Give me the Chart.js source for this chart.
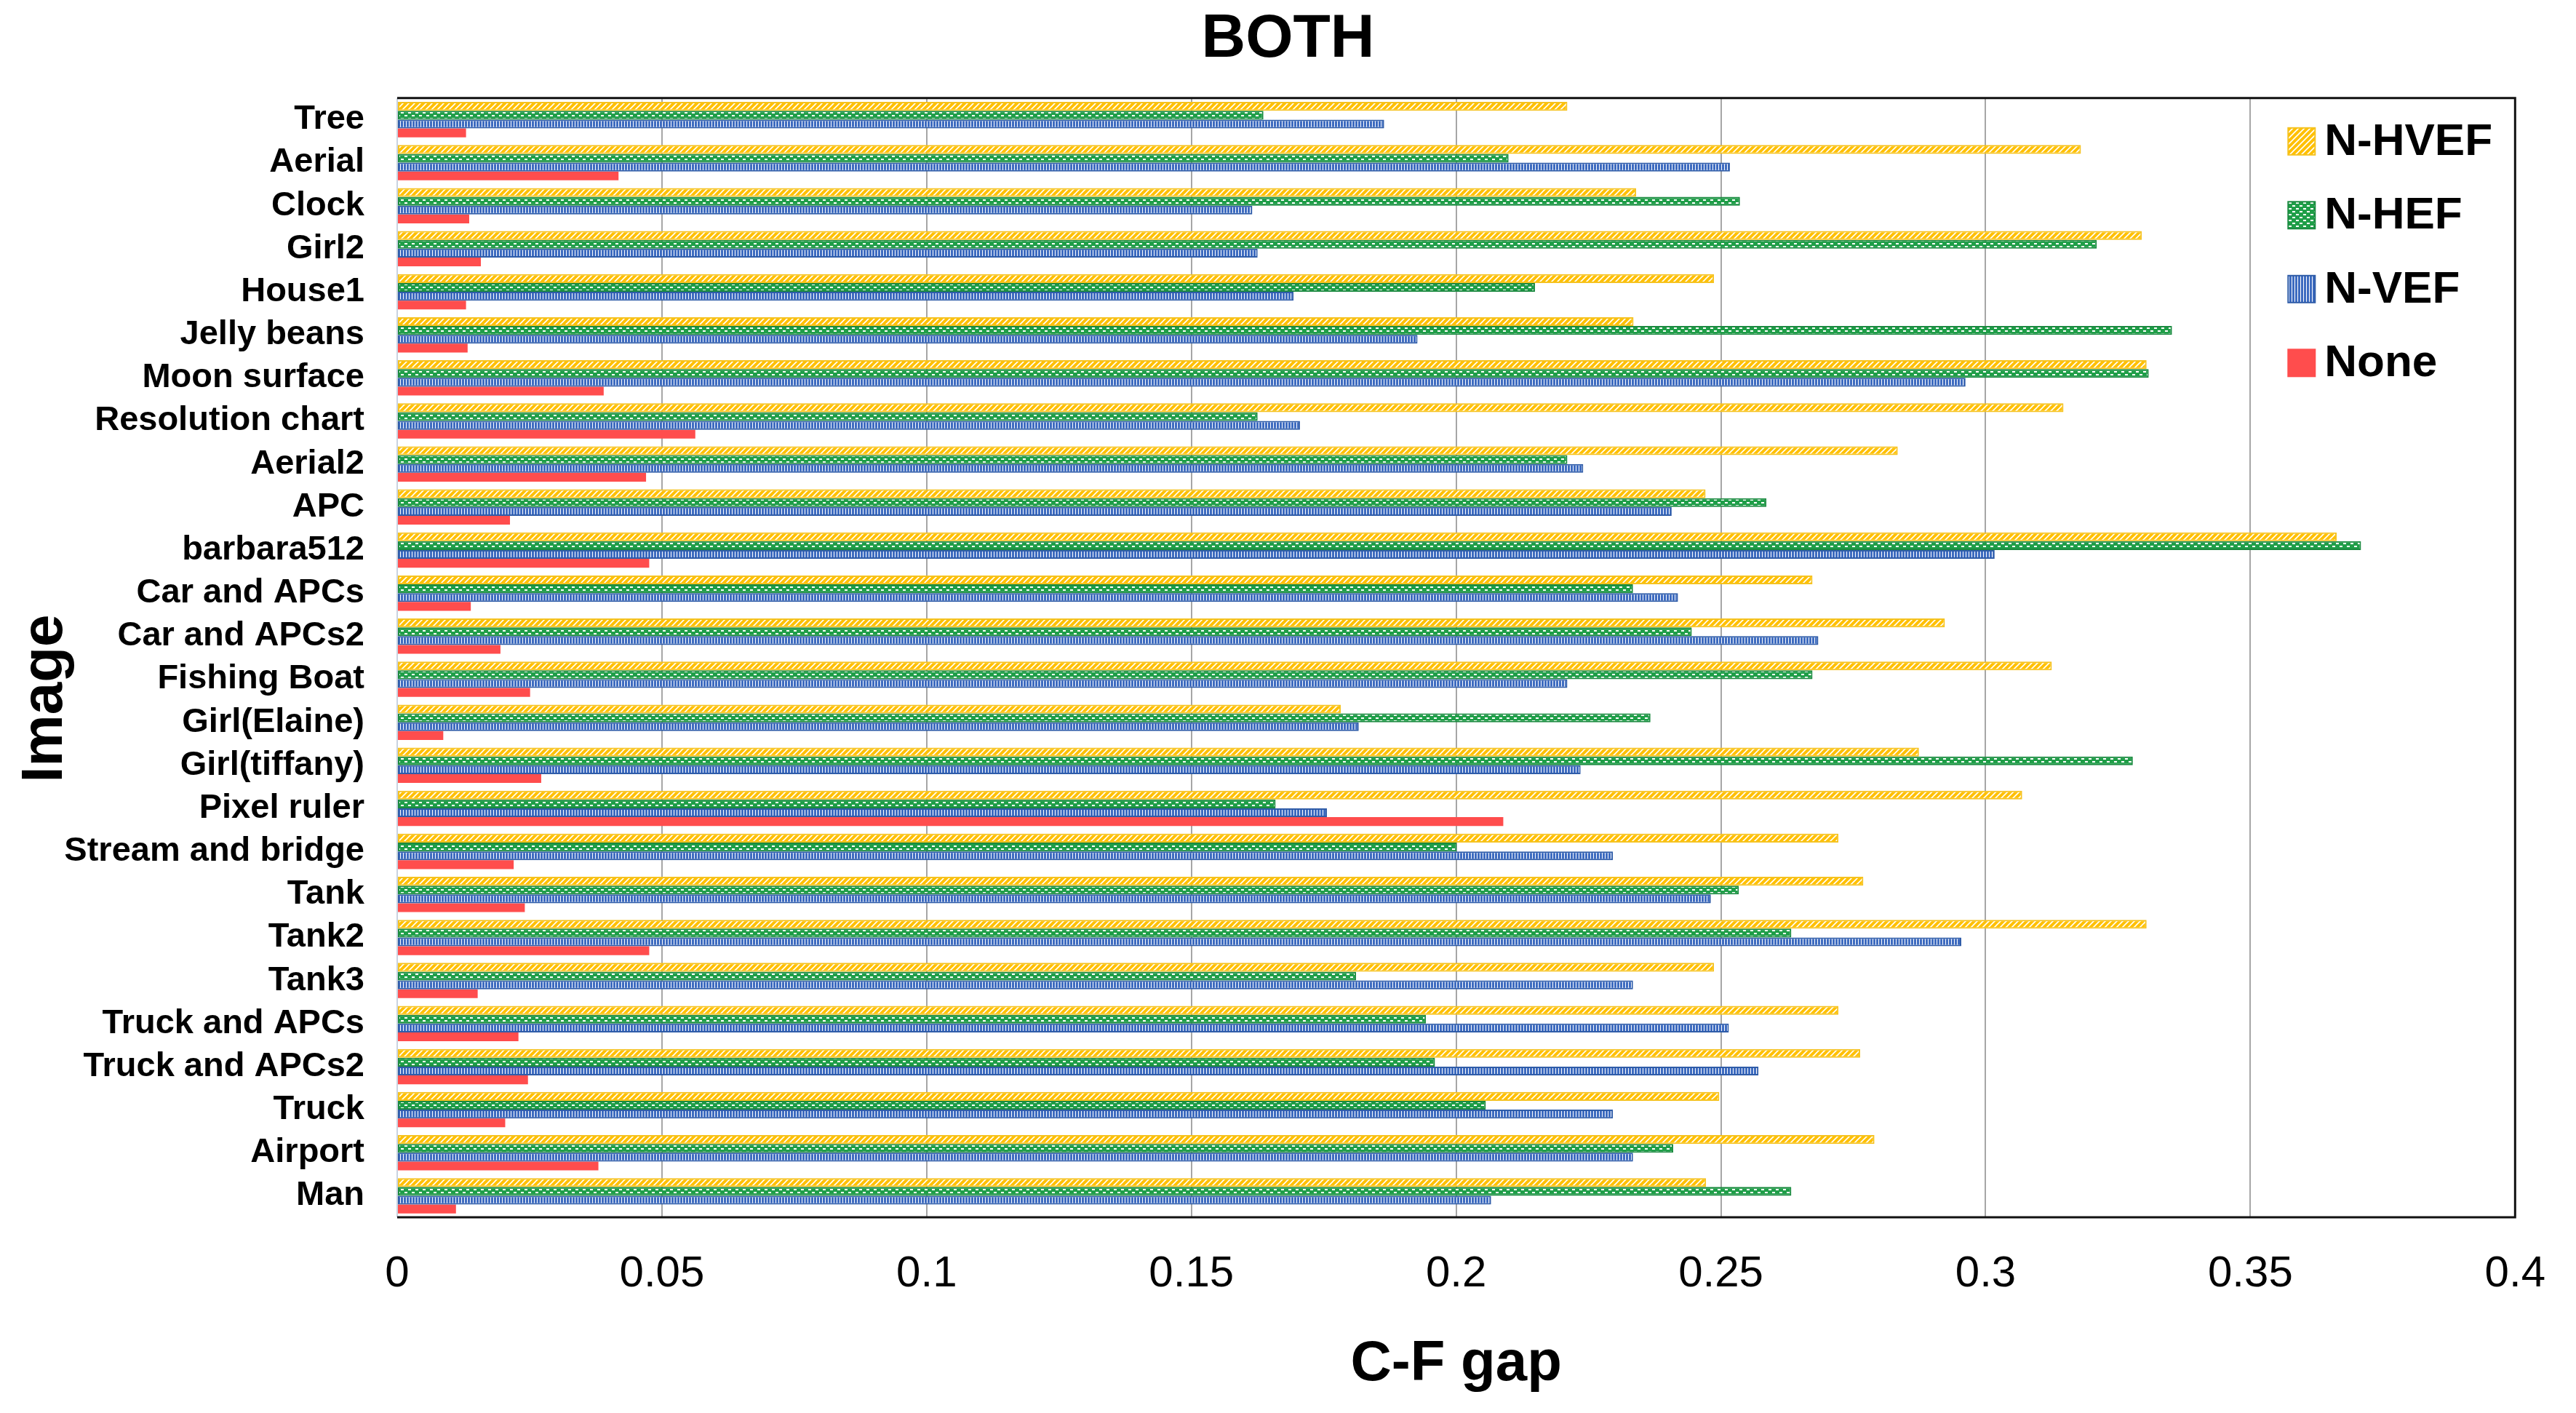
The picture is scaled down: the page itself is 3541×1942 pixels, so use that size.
<!DOCTYPE html>
<html lang="en">
<head>
<meta charset="UTF-8">
<title>BOTH - C-F gap by image</title>
<script src="https://cdn.jsdelivr.net/npm/chart.js"></script>
<style>
  html, body { margin: 0; padding: 0; background: #fff; }
  canvas { display: block; }
</style>
</head>
<body>
<canvas id="gapChart" width="3541" height="1942"></canvas>
<script>
// Data (C-F gap per test image)
const images = ['Tree', 'Aerial', 'Clock', 'Girl2', 'House1', 'Jelly beans', 'Moon surface',
  'Resolution chart', 'Aerial2', 'APC', 'barbara512', 'Car and APCs', 'Car and APCs2',
  'Fishing Boat', 'Girl(Elaine)', 'Girl(tiffany)', 'Pixel ruler', 'Stream and bridge',
  'Tank', 'Tank2', 'Tank3', 'Truck and APCs', 'Truck and APCs2', 'Truck', 'Airport', 'Man'];

const nHVEF = [0.221, 0.318, 0.234, 0.3295, 0.2487, 0.2335, 0.3304, 0.3147, 0.2834, 0.2471,
  0.3663, 0.2673, 0.2923, 0.3125, 0.1782, 0.2874, 0.3069, 0.2722, 0.2769, 0.3304,
  0.2487, 0.2722, 0.2763, 0.2497, 0.279, 0.2472];
const nHEF = [0.1636, 0.2099, 0.2536, 0.321, 0.2149, 0.3352, 0.3308, 0.1625, 0.221, 0.2586,
  0.3709, 0.2334, 0.2445, 0.2673, 0.2367, 0.3278, 0.1659, 0.2001, 0.2534, 0.2633,
  0.1811, 0.1943, 0.196, 0.2056, 0.241, 0.2633];
const nVEF = [0.1864, 0.2517, 0.1615, 0.1625, 0.1693, 0.1927, 0.2962, 0.1705, 0.224, 0.2407,
  0.3017, 0.2419, 0.2684, 0.221, 0.1816, 0.2235, 0.1756, 0.2296, 0.2481, 0.2954,
  0.2334, 0.2515, 0.2571, 0.2296, 0.2334, 0.2066];
const none = [0.013, 0.0418, 0.0136, 0.0158, 0.013, 0.0133, 0.039, 0.0563, 0.047, 0.0213,
  0.0476, 0.0139, 0.0195, 0.0251, 0.0087, 0.0272, 0.2089, 0.022, 0.0241, 0.0476,
  0.0152, 0.0229, 0.0247, 0.0204, 0.038, 0.0111];

const seriesNames = ['N-HVEF', 'N-HEF', 'N-VEF', 'None'];
const xTickLabels = ['0', '0.05', '0.1', '0.15', '0.2', '0.25', '0.3', '0.35', '0.4'];

// small canvas patterns like the Excel fills
function makePattern(kind) {
  const c = document.createElement('canvas');
  const g = c.getContext('2d');
  if (kind === 'diag') {
    c.width = 8; c.height = 8;
    g.fillStyle = '#FFC000';
    g.fillRect(0, 0, 8, 8);
    g.strokeStyle = '#ffffff';
    g.lineWidth = 1.6;
    g.beginPath();
    g.moveTo(0, 8); g.lineTo(8, 0);
    g.moveTo(-2, 2); g.lineTo(2, -2);
    g.moveTo(6, 10); g.lineTo(10, 6);
    g.stroke();
  } else if (kind === 'dash') {
    c.width = 10; c.height = 8;
    g.fillStyle = '#1F9E48';
    g.fillRect(0, 0, 10, 8);
    g.fillStyle = '#ffffff';
    g.fillRect(1, 2, 4, 2);
    g.fillRect(6, 6, 4, 2);
  } else if (kind === 'vert') {
    c.width = 4; c.height = 4;
    g.fillStyle = '#3D6BC0';
    g.fillRect(0, 0, 4, 4);
    g.fillStyle = '#ffffff';
    g.fillRect(2, 0, 1, 4);
  }
  return g.createPattern(c, 'repeat');
}

const fills = [makePattern('diag'), makePattern('dash'), makePattern('vert'), '#FF4D4D'];
const edges = ['#F5C220', '#1B8A40', '#2F5CA8', '#FF4D4D'];
const values = [nHVEF, nHEF, nVEF, none];

// legend sits inside the plot, top right
const insideLegend = {
  id: 'insideLegend',
  afterDraw(chart) {
    const ctx = chart.ctx;
    const area = chart.chartArea;
    const x = area.right - 312;
    ctx.save();
    ctx.font = 'bold 62px "Liberation Sans", Arial, sans-serif';
    ctx.textBaseline = 'middle';
    ctx.textAlign = 'left';
    seriesNames.forEach((name, i) => {
      const cy = area.top + 59 + i * 101.5;
      ctx.fillStyle = fills[i];
      ctx.fillRect(x, cy - 18, 37, 37);
      ctx.strokeStyle = edges[i];
      ctx.lineWidth = 2;
      ctx.strokeRect(x, cy - 18, 37, 37);
      ctx.fillStyle = '#000';
      ctx.fillText(name, x + 50, cy + 2);
    });
    ctx.restore();
  }
};

// y axis title, a bit below the middle as in the figure
const yTitle = {
  id: 'yTitle',
  afterDraw(chart) {
    const ctx = chart.ctx;
    ctx.save();
    ctx.translate(63, 960);
    ctx.rotate(-Math.PI / 2);
    ctx.font = 'bold 80px "Liberation Sans", Arial, sans-serif';
    ctx.fillStyle = '#000';
    ctx.textAlign = 'center';
    ctx.textBaseline = 'middle';
    ctx.fillText('Image', 0, 0);
    ctx.restore();
  }
};

// plot frame: dark top/right/bottom, light left axis
const plotFrame = {
  id: 'plotFrame',
  afterDatasetsDraw(chart) {
    const ctx = chart.ctx;
    const a = chart.chartArea;
    ctx.save();
    ctx.strokeStyle = '#C9D3E0';
    ctx.lineWidth = 2;
    ctx.beginPath();
    ctx.moveTo(a.left, a.top); ctx.lineTo(a.left, a.bottom);
    ctx.stroke();
    ctx.strokeStyle = '#111';
    ctx.lineWidth = 3;
    ctx.beginPath();
    ctx.moveTo(a.left, a.top); ctx.lineTo(a.right, a.top);
    ctx.lineTo(a.right, a.bottom); ctx.lineTo(a.left, a.bottom);
    ctx.stroke();
    ctx.restore();
  }
};

Chart.defaults.font.family = '"Liberation Sans", Arial, sans-serif';
Chart.defaults.color = '#000';

const ctx = document.getElementById('gapChart').getContext('2d');
new Chart(ctx, {
  type: 'bar',
  data: {
    labels: images,
    datasets: seriesNames.map((name, i) => ({
      label: name,
      data: values[i],
      backgroundColor: fills[i],
      borderColor: edges[i],
      borderWidth: i === 3 ? 0 : 2,
      borderSkipped: false,
      categoryPercentage: 0.82,
      barPercentage: 1.0
    }))
  },
  options: {
    indexAxis: 'y',
    responsive: false,
    animation: false,
    devicePixelRatio: 1,
    layout: { padding: 0 },
    plugins: {
      legend: { display: false },
      tooltip: { enabled: false },
      title: {
        display: true,
        text: 'BOTH',
        font: { size: 84, weight: 'bold' },
        color: '#000',
        padding: { top: 4, bottom: 30 }
      }
    },
    scales: {
      x: {
        min: 0,
        max: 0.4,
        ticks: {
          stepSize: 0.05,
          padding: 42,
          font: { size: 60 },
          callback: (v, i) => xTickLabels[i]
        },
        grid: {
          drawTicks: false,
          lineWidth: 2,
          color: c => (c.index === 0 ? 'rgba(0,0,0,0)' : '#A6A6A6')
        },
        border: { display: false },
        title: {
          display: true,
          text: 'C-F gap',
          font: { size: 78, weight: 'bold' },
          padding: { top: 0, bottom: 20 }
        },
        afterFit: s => { s.height = 269; }
      },
      y: {
        ticks: {
          padding: 45,
          font: { size: 47, weight: 'bold' },
          autoSkip: false
        },
        grid: { display: false, drawTicks: false },
        border: { display: false },
        afterFit: s => { s.width = 546; }
      },
      // empty right-hand strip so the plot ends where the figure's does
      pad: {
        type: 'linear',
        position: 'right',
        display: true,
        ticks: { display: false },
        grid: { display: false, drawTicks: false },
        border: { display: false },
        afterFit: s => { s.width = 75; }
      }
    }
  },
  plugins: [plotFrame, insideLegend, yTitle]
});
</script>
</body>
</html>
